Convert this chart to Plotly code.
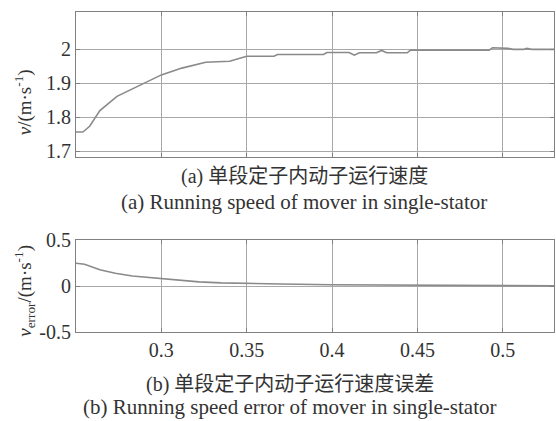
import plotly.graph_objects as go

# ---- data ----
speed_t = [0.25, 0.254, 0.258, 0.264, 0.274, 0.283, 0.292, 0.300, 0.312, 0.326,
           0.340, 0.347, 0.350, 0.366, 0.368, 0.395, 0.397, 0.410, 0.413, 0.416,
           0.426, 0.429, 0.432, 0.444, 0.446, 0.492, 0.494, 0.503, 0.506, 0.512,
           0.514, 0.517, 0.530]
speed_v = [1.757, 1.757, 1.774, 1.820, 1.862, 1.883, 1.905, 1.925, 1.945, 1.962,
           1.965, 1.975, 1.980, 1.980, 1.985, 1.985, 1.991, 1.991, 1.983, 1.990,
           1.990, 1.997, 1.990, 1.990, 1.998, 1.998, 2.005, 2.003, 2.000, 2.000,
           2.003, 2.000, 2.000]

err_t = [0.25, 0.255, 0.264, 0.273, 0.283, 0.292, 0.300, 0.311, 0.322, 0.335,
         0.350, 0.370, 0.400, 0.450, 0.500, 0.530]
err_v = [0.248, 0.238, 0.177, 0.140, 0.110, 0.094, 0.082, 0.062, 0.046, 0.035,
         0.028, 0.022, 0.015, 0.010, 0.003, 0.002]

top_ytick_vals = [1.7, 1.8, 1.9, 2.0]
top_ytick_text = ["1.7", "1.8", "1.9", "2"]
bot_ytick_vals = [-0.5, 0, 0.5]
bot_ytick_text = ["-0.5", "0", "0.5"]
xtick_vals = [0.3, 0.35, 0.4, 0.45, 0.5]
xtick_text = ["0.3", "0.35", "0.4", "0.45", "0.5"]

caption_a_cn = "(a) 单段定子内动子运行速度"
caption_a_en = "(a) Running speed of mover in single-stator"
caption_b_cn = "(b) 单段定子内动子运行速度误差"
caption_b_en = "(b) Running speed error of mover in single-stator"
ytitle_top = "<i>v</i>/(m·s<sup>-1</sup>)"
ytitle_bot = "<i>v</i><sub>error</sub>/(m·s<sup>-1</sup>)"

# ---- figure ----
FONT = "Liberation Serif, Times New Roman, serif"
CJK = "Liberation Serif, Noto Sans CJK SC, serif"
LINE = "#8a8a8a"
GRID = "#a8a8a8"
AX = "#808080"
TXT = "#333333"

fig = go.Figure()
fig.add_trace(go.Scatter(x=speed_t, y=speed_v, mode="lines",
                         line=dict(color=LINE, width=1.6), xaxis="x", yaxis="y"))
fig.add_trace(go.Scatter(x=err_t, y=err_v, mode="lines",
                         line=dict(color=LINE, width=1.6), xaxis="x2", yaxis="y2"))

common_x = dict(range=[0.25, 0.53], tickvals=xtick_vals, ticktext=xtick_text,
                showgrid=True, gridcolor=GRID, gridwidth=1,
                showline=True, linecolor=AX, linewidth=1.2, mirror="ticks",
                ticks="inside", ticklen=4, tickcolor=AX, zeroline=False,
                tickfont=dict(family=FONT, size=20, color=TXT))

common_y = dict(showgrid=True, gridcolor=GRID, showline=True, linecolor=AX,
                linewidth=1.2, mirror="ticks", ticks="inside", ticklen=4,
                tickcolor=AX, zeroline=False,
                tickfont=dict(family=FONT, size=20, color=TXT))

fig.update_layout(
    width=556, height=421,
    margin=dict(l=76, r=1, t=8, b=89),
    paper_bgcolor="white", plot_bgcolor="white",
    showlegend=False,
    xaxis=dict(**common_x, anchor="y", showticklabels=False),
    xaxis2=dict(**common_x, anchor="y2", showticklabels=True),
    yaxis=dict(**common_y, domain=[0.5463, 1], range=[1.683, 2.11],
               tickvals=top_ytick_vals, ticktext=top_ytick_text),
    yaxis2=dict(**common_y, domain=[0, 0.287], range=[-0.5, 0.5],
                tickvals=bot_ytick_vals, ticktext=bot_ytick_text),
)

ann = [
    dict(text=ytitle_top, x=-0.108, y=0.719, textangle=-90,
         font=dict(family=FONT, size=19, color=TXT)),
    dict(text=ytitle_bot, x=-0.108, y=0.13, textangle=-90,
         font=dict(family=FONT, size=19, color=TXT)),
    dict(text=caption_a_cn, x=0.478, y=0.4846, font=dict(family=CJK, size=20, color=TXT)),
    dict(text=caption_a_en, x=0.478, y=0.407, font=dict(family=FONT, size=21, color=TXT)),
    dict(text=caption_b_cn, x=0.447, y=-0.1636, font=dict(family=CJK, size=20, color=TXT)),
    dict(text=caption_b_en, x=0.447, y=-0.2346, font=dict(family=FONT, size=21, color=TXT)),
]
for a in ann:
    a.update(xref="paper", yref="paper", showarrow=False,
             xanchor="center", yanchor="middle")
fig.update_layout(annotations=ann)

fig.write_html("out.html", config={"displayModeBar": False})

# remove default page margin so the figure sits at the window's top-left
with open("out.html", "r", encoding="utf-8") as f:
    html = f.read()
html = html.replace("<head>", "<head><style>html,body{margin:0;padding:0;overflow:hidden;}</style>", 1)
with open("out.html", "w", encoding="utf-8") as f:
    f.write(html)
